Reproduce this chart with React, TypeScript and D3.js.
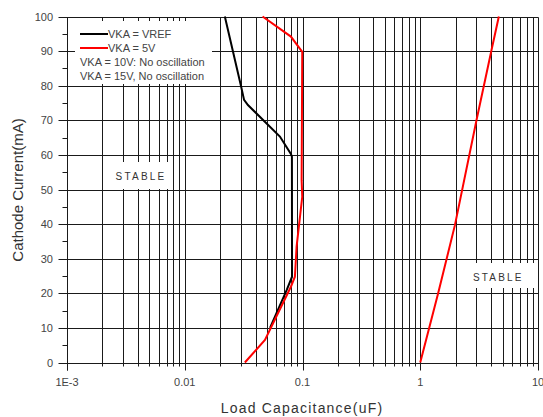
import React, { useEffect, useRef } from 'react'
import * as d3 from 'd3'

// data
const xTicks = [0.001, 0.01, 0.1, 1, 10]
const xTickLabels = ['1E-3', '0.01', '0.1', '1', '10']
const yTicks = [0, 10, 20, 30, 40, 50, 60, 70, 80, 90, 100]

// VKA = VREF
const vrefCap = [0.0219, 0.03, 0.0319, 0.0344, 0.0496, 0.0643, 0.0797, 0.0813, 0.0815, 0.0735, 0.06, 0.053]
const vrefCur = [100, 80, 75.9, 74.4, 69.1, 65.3, 60.3, 59.5, 24.8, 21, 14.2, 10]

// VKA = 5V, low branch
const v5Cap = [0.0458, 0.0797, 0.0995, 0.0983, 0.0995, 0.0891, 0.0862, 0.0797, 0.048, 0.0324]
const v5Cur = [100, 94.2, 89.8, 52.7, 47.9, 33.5, 24.8, 21.9, 6.5, 0]

// VKA = 5V, high branch
const v5HiCap = [1, 1.419, 1.97, 3.006, 4.03, 4.65]
const v5HiCur = [0, 20, 39.7, 70.1, 90.3, 100]

const legendItems = ['VKA = VREF', 'VKA = 5V', 'VKA = 10V: No oscillation', 'VKA = 15V, No oscillation']

function App() {
  const ref = useRef<SVGSVGElement>(null)

  useEffect(() => {
    drawChart(ref.current as SVGSVGElement)
  }, [])

  return (
    <svg ref={ref} width={543} height={417}
      style={{ position: 'absolute', left: 0, top: 0, background: '#fff' }} />
  )
}

function drawChart(node: SVGSVGElement) {
  const svg = d3.select(node)
  svg.selectAll('*').remove()
  const font = 'Arial, "Liberation Sans", sans-serif'

  const x = d3.scaleLog().domain([0.001, 10]).range([67, 538])
  const y = d3.scaleLinear().domain([0, 100]).range([362.5, 16.5])
  const px = (v: number) => Math.round(x(v)) + 0.5
  const py = (v: number) => Math.round(y(v)) + 0.5

  // minor decade values
  const minors: number[] = []
  for (let e = -3; e < 1; e++) {
    for (let m = 2; m <= 9; m++) minors.push(m * Math.pow(10, e))
  }

  const grid = svg.append('g').attr('stroke', '#1a1a1a').attr('stroke-width', 1)
  // vertical grid
  grid.selectAll('line.vx')
    .data([...xTicks, ...minors])
    .enter()
    .append('line')
    .attr('x1', d => px(d)).attr('x2', d => px(d))
    .attr('y1', py(100)).attr('y2', d => xTicks.includes(d) ? py(0) + 7 : py(0) + 3)
  // horizontal grid
  grid.selectAll('line.hy')
    .data(yTicks)
    .enter()
    .append('line')
    .attr('x1', px(0.001) - 9).attr('x2', px(10))
    .attr('y1', d => py(d)).attr('y2', d => py(d))
  // y minor ticks
  grid.selectAll('line.my')
    .data(d3.range(5, 100, 10))
    .enter()
    .append('line')
    .attr('x1', px(0.001) - 5).attr('x2', px(0.001))
    .attr('y1', d => py(d)).attr('y2', d => py(d))

  // white boxes (legend, STABLE labels)
  svg.append('rect').attr('x', 75).attr('y', 21).attr('width', 137).attr('height', 63).attr('fill', '#fff')
  svg.append('rect').attr('x', 104).attr('y', 162).attr('width', 68).attr('height', 27).attr('fill', '#fff')
  svg.append('rect').attr('x', 457).attr('y', 263).attr('width', 80).attr('height', 25).attr('fill', '#fff')

  // axis line on the left
  svg.append('line').attr('x1', px(0.001)).attr('x2', px(0.001))
    .attr('y1', py(100)).attr('y2', py(0) + 7).attr('stroke', '#1a1a1a')

  const line = d3.line<[number, number]>().x(d => x(d[0])).y(d => y(d[1]))
  const series = [
    { cap: vrefCap, cur: vrefCur, color: '#000' },
    { cap: v5Cap, cur: v5Cur, color: '#ff0000' },
    { cap: v5HiCap, cur: v5HiCur, color: '#ff0000' },
  ]
  series.forEach(s => {
    svg.append('path')
      .datum(s.cap.map((c, i) => [c, s.cur[i]] as [number, number]))
      .attr('d', line)
      .attr('fill', 'none')
      .attr('stroke', s.color)
      .attr('stroke-width', 2)
  })

  // tick labels
  svg.selectAll('text.xt')
    .data(xTicks)
    .enter()
    .append('text')
    .attr('x', d => x(d))
    .attr('y', 386)
    .attr('text-anchor', 'middle')
    .attr('font-family', font).attr('font-size', 11).attr('fill', '#444')
    .text((d, i) => xTickLabels[i])
  svg.selectAll('text.yt')
    .data(yTicks)
    .enter()
    .append('text')
    .attr('x', 53)
    .attr('y', d => y(d) + 4)
    .attr('text-anchor', 'end')
    .attr('font-family', font).attr('font-size', 11).attr('fill', '#444')
    .text(d => d)

  // axis titles
  svg.append('text')
    .attr('x', 302).attr('y', 413)
    .attr('text-anchor', 'middle')
    .attr('font-family', font).attr('font-size', 14).attr('fill', '#333')
    .attr('letter-spacing', 1.2)
    .text('Load Capacitance(uF)')
  svg.append('text')
    .attr('transform', 'translate(23, 190) rotate(-90)')
    .attr('text-anchor', 'middle')
    .attr('font-family', font).attr('font-size', 15).attr('fill', '#333')
    .text('Cathode Current(mA)')

  // legend
  svg.append('line').attr('x1', 80).attr('x2', 108).attr('y1', 34).attr('y2', 34)
    .attr('stroke', '#000').attr('stroke-width', 2)
  svg.append('line').attr('x1', 80).attr('x2', 108).attr('y1', 48).attr('y2', 48)
    .attr('stroke', '#ff0000').attr('stroke-width', 2)
  svg.selectAll('text.lg')
    .data(legendItems)
    .enter()
    .append('text')
    .attr('x', (d, i) => i < 2 ? 108 : 80)
    .attr('y', (d, i) => [38, 52, 66, 80][i])
    .attr('font-family', font).attr('font-size', 11).attr('fill', '#444')
    .text(d => d)

  // STABLE labels
  svg.selectAll('text.st')
    .data([[0.00425, 180], [4.6, 281]])
    .enter()
    .append('text')
    .attr('x', d => x(d[0]))
    .attr('y', d => d[1])
    .attr('text-anchor', 'middle')
    .attr('font-family', font).attr('font-size', 10).attr('fill', '#333')
    .attr('letter-spacing', 2.2)
    .text('STABLE')
}

export default App
